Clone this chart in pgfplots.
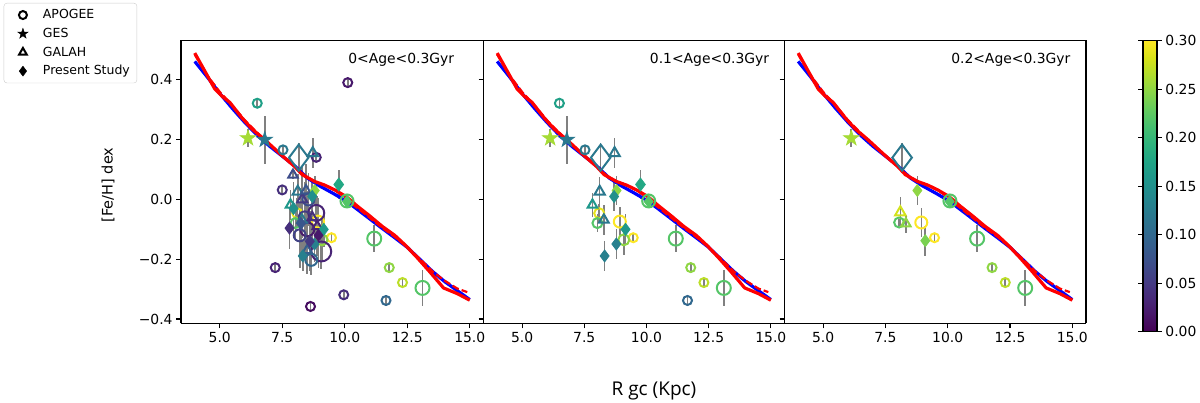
\documentclass[border=0pt]{standalone}
\usepackage{pgfplots}
\pgfplotsset{compat=1.18}
\usepackage{pgfplotstable}
\usepackage{fontspec}
\setmainfont{DejaVu Sans}
\newfontfamily\labfont{Open Sans}
\newcommand{\tickfont}{\fontsize{13.9}{16}\selectfont}

\pgfdeclareplotmark{fstar}{%
  \pgfpathmoveto{\pgfpointpolar{90}{\pgfplotmarksize}}%
  \pgfpathlineto{\pgfpointpolar{126}{0.382\pgfplotmarksize}}%
  \pgfpathlineto{\pgfpointpolar{162}{\pgfplotmarksize}}%
  \pgfpathlineto{\pgfpointpolar{198}{0.382\pgfplotmarksize}}%
  \pgfpathlineto{\pgfpointpolar{234}{\pgfplotmarksize}}%
  \pgfpathlineto{\pgfpointpolar{270}{0.382\pgfplotmarksize}}%
  \pgfpathlineto{\pgfpointpolar{306}{\pgfplotmarksize}}%
  \pgfpathlineto{\pgfpointpolar{342}{0.382\pgfplotmarksize}}%
  \pgfpathlineto{\pgfpointpolar{18}{\pgfplotmarksize}}%
  \pgfpathlineto{\pgfpointpolar{54}{0.382\pgfplotmarksize}}%
  \pgfpathclose
  \pgfusepathqfillstroke}

% ---------- gradient lines ----------
\pgfplotstableread{
x y
4.0 0.462
4.5 0.410
5.0 0.355
5.5 0.305
6.0 0.258
6.5 0.215
7.0 0.178
7.5 0.145
8.0 0.112
8.5 0.072
9.0 0.045
9.5 0.022
10.0 -0.002
10.5 -0.033
11.0 -0.065
11.5 -0.097
12.0 -0.128
12.5 -0.160
13.0 -0.200
13.5 -0.240
14.0 -0.275
14.5 -0.305
15.0 -0.335
}\bluel
\pgfplotstableread{
x y
4.0 0.490
4.4 0.430
4.8 0.370
5.1 0.345
5.4 0.325
5.9 0.272
6.3 0.235
6.8 0.200
7.5 0.146
8.0 0.110
8.3 0.083
8.8 0.060
9.2 0.048
9.6 0.032
10.05 0.010
10.5 -0.022
11.0 -0.055
11.5 -0.090
12.0 -0.120
12.45 -0.155
12.9 -0.195
13.4 -0.242
13.95 -0.296
14.5 -0.315
15.0 -0.337
}\redl
\pgfplotstableread{
x y
4.0 0.485
4.5 0.415
5.0 0.360
5.5 0.315
6.0 0.265
6.3 0.240
6.8 0.198
7.5 0.148
8.0 0.110
8.4 0.080
8.8 0.060
9.3 0.045
9.8 0.020
10.2 -0.008
10.8 -0.048
11.5 -0.095
12.0 -0.125
12.5 -0.160
13.0 -0.198
13.5 -0.240
14.0 -0.272
14.5 -0.298
14.9 -0.310
}\redd

% ---------- panel A: 0<Age<0.3 ----------
\pgfplotstableread{
x y c s e
6.50 0.322 0.17 4.5 0.012
10.12 0.391 0.02 4.5 0.012
7.53 0.166 0.12 4.5 0.012
8.86 0.141 0.03 4.5 0.012
7.50 0.032 0.04 4.5 0.012
9.47 -0.128 0.30 4.5 0.012
11.18 -0.131 0.22 7 0.045
7.22 -0.228 0.03 4.5 0.012
11.78 -0.228 0.25 4.5 0.012
12.31 -0.278 0.27 4.5 0.012
13.11 -0.296 0.22 7 0.06
9.96 -0.319 0.04 4.5 0.012
11.65 -0.338 0.10 4.5 0.012
8.63 -0.358 0.01 4.5 0.012
10.09 -0.005 0.22 6.5 0.012
8.10 -0.046 0.29 5 0.05
8.03 -0.079 0.22 5 0.06
8.93 -0.074 0.30 6 0.08
9.09 -0.135 0.25 5.5 0.07
9.06 -0.174 0.03 10 0.06
8.66 -0.202 0.10 6 0.05
8.86 -0.045 0.03 8 0.10
8.50 -0.100 0.02 7 0.13
8.20 -0.120 0.06 6 0.11
8.40 -0.060 0.05 6 0.12
8.55 0.000 0.07 6 0.09
}\circA
\pgfplotstableread{
x y c s e
6.13 0.205 0.26 8 0.03
6.80 0.200 0.12 8 0.08
}\starA
\pgfplotstableread{
x y c s e
8.72 0.155 0.12 6 0.05
7.93 0.082 0.07 5.5 0.012
8.12 0.026 0.12 6 0.06
7.83 -0.018 0.16 5.5 0.05
8.29 -0.068 0.12 5.5 0.06
8.30 0.000 0.05 6 0.11
8.45 0.030 0.08 5.5 0.09
8.70 -0.060 0.04 5.5 0.11
8.50 -0.170 0.09 5.5 0.08
8.90 -0.090 0.03 5.5 0.10
}\triA
\pgfplotstableread{
x y c s e
9.76 0.050 0.18 6.5 0.05
10.09 -0.007 0.22 6 0.02
8.80 0.030 0.25 6 0.05
8.70 0.010 0.15 6 0.06
9.16 -0.100 0.16 6 0.06
8.79 -0.149 0.13 6 0.06
8.32 -0.189 0.13 6 0.05
7.79 -0.096 0.04 6 0.07
7.95 -0.030 0.15 6 0.09
8.60 -0.140 0.05 6 0.10
8.95 -0.120 0.02 6 0.11
8.25 -0.080 0.08 6 0.12
}\diaA
\pgfplotstableread{
x y c s e
8.16 0.140 0.12 13 0.05
}\odiaA

% ---------- panel B: 0.1<Age<0.3 ----------
\pgfplotstableread{
x y c s e
6.50 0.322 0.17 4.5 0.012
7.53 0.166 0.12 4.5 0.012
9.47 -0.128 0.30 4.5 0.012
11.18 -0.131 0.22 7 0.045
11.78 -0.228 0.25 4.5 0.012
12.31 -0.278 0.27 4.5 0.012
13.11 -0.296 0.22 7 0.06
11.65 -0.338 0.10 4.5 0.012
10.09 -0.005 0.22 6.5 0.012
8.10 -0.046 0.29 5 0.03
8.03 -0.079 0.22 5 0.03
8.93 -0.074 0.30 6 0.05
9.09 -0.135 0.25 5.5 0.05
}\circB
\pgfplotstableread{
x y c s e
6.13 0.205 0.26 8 0.03
6.80 0.200 0.12 8 0.08
}\starB
\pgfplotstableread{
x y c s e
8.72 0.155 0.12 6 0.05
8.12 0.026 0.12 6 0.05
7.83 -0.018 0.16 5.5 0.04
8.29 -0.068 0.12 5.5 0.05
}\triB
\pgfplotstableread{
x y c s e
9.76 0.050 0.18 6.5 0.05
10.09 -0.007 0.22 6 0.02
8.80 0.030 0.25 6 0.05
8.70 0.010 0.15 6 0.05
9.16 -0.100 0.16 6 0.05
8.79 -0.149 0.13 6 0.05
8.32 -0.189 0.13 6 0.05
}\diaB
\pgfplotstableread{
x y c s e
8.16 0.140 0.12 13 0.05
}\odiaB

% ---------- panel C: 0.2<Age<0.3 ----------
\pgfplotstableread{
x y c s e
9.47 -0.128 0.30 4.5 0.012
11.18 -0.131 0.22 7 0.045
11.78 -0.228 0.25 4.5 0.012
12.31 -0.278 0.27 4.5 0.012
13.11 -0.296 0.22 7 0.06
10.09 -0.005 0.22 6.5 0.012
8.05 -0.077 0.22 5 0.012
8.94 -0.077 0.30 6 0.05
}\circC
\pgfplotstableread{
x y c s e
6.13 0.205 0.26 8 0.03
}\starC
\pgfplotstableread{
x y c s e
8.10 -0.043 0.28 6 0.05
8.32 -0.081 0.25 5.5 0.03
}\triC
\pgfplotstableread{
x y c s e
8.78 0.030 0.25 6 0.05
10.08 -0.007 0.22 6 0.02
9.10 -0.138 0.24 6 0.05
}\diaC
\pgfplotstableread{
x y c s e
8.17 0.140 0.12 13 0.05
}\odiaC

\pgfplotsset{
  panel/.style={
    scale only axis, height=283pt, anchor=south west,
    xmin=3.45, xmax=15.55, ymin=-0.415, ymax=0.532,
    xtick={5,7.5,10,12.5,15}, xticklabels={5.0,7.5,10.0,12.5,15.0},
    ytick={-0.4,-0.2,0,0.2,0.4},
    tick align=outside, tick pos=left,
    major tick length=4.9pt,
    every tick/.style={black, line width=1.1pt},
    separate axis lines,
    axis line style={black, line width=1.1pt},
    ticklabel style={font=\tickfont},
    colormap name=viridis, point meta min=0, point meta max=0.3,
  },
  pts/.style={only marks, scatter, point meta=explicit, forget plot,
    scatter/use mapped color={draw=mapped color, fill=mapped color},
    visualization depends on={\thisrow{s} \as \msize},
    scatter/@pre marker code/.append style={/tikz/mark size=\msize pt}},
  legimg/.style={legend image code/.code={%
    \path[draw=none, fill=none] (0pt,-4pt) rectangle (32pt,4pt);
    \draw[##1] plot coordinates {(14pt,0pt)};}},
}
\newcommand{\scat}[2]{\addplot[pts,#1] table[x=x,y=y,meta=c]{#2};}
\newcommand{\errs}[1]{\addplot[draw=none, mark=none, forget plot,
    error bars/.cd, y dir=both, y explicit, error mark=none,
    error bar style={draw=gray, line width=1.6pt}] table[x=x,y=y,y error=e]{#1};}
\newcommand{\grad}{%
  \addplot[blue, line width=3.2pt, line join=round, forget plot] table{\bluel};
  \addplot[red, dashed, dash pattern=on 7pt off 3pt, line width=2.2pt, forget plot] table{\redd};
  \addplot[red, line width=3.2pt, line join=round, forget plot] table{\redl};}
\newcommand{\panelpts}[5]{%
  \scat{mark=o, mark options={line width=2pt}}{#1}
  \scat{mark=fstar, mark options={line width=0.8pt}}{#2}
  \scat{mark=triangle, mark options={line width=2pt}}{#3}
  \scat{mark=diamond*, mark options={line width=0.8pt}}{#4}
  \scat{mark=diamond, mark options={line width=2pt}}{#5}
  \errs{#1}\errs{#2}\errs{#3}\errs{#4}\errs{#5}
  \grad}

\begin{document}
\begin{tikzpicture}
\useasboundingbox (0,0) rectangle (1200pt,403pt);

\begin{axis}[panel, at={(181pt,79.5pt)}, width=302.5pt,
  yticklabels={−0.4,−0.2,0.0,0.2,0.4},
  legend style={at={(-0.586,1.1325)}, anchor=north west, draw=black!20,
    rounded corners=3pt, fill=white, font=\fontsize{12.5}{15}\selectfont,
    row sep=1pt, inner xsep=5pt, inner ysep=3pt,
    nodes={inner sep=2pt, text height=10.5pt, text depth=3.2pt}},
  legend cell align=left,
]
\addlegendimage{only marks, legimg, mark=o, black, mark size=4pt, mark options={line width=2pt}}
\addlegendentry{APOGEE}
\addlegendimage{only marks, legimg, mark=fstar, black, mark size=5.5pt}
\addlegendentry{GES}
\addlegendimage{only marks, legimg, mark=triangle, black, mark size=4.5pt, mark options={line width=2pt}}
\addlegendentry{GALAH}
\addlegendimage{only marks, legimg, mark=diamond*, black, mark size=5pt}
\addlegendentry{Present Study}
\panelpts{\circA}{\starA}{\triA}{\diaA}{\odiaA}
\node[anchor=west, font=\tickfont] at (axis cs:10.0,0.467) {0<Age<0.3Gyr};
\end{axis}

\begin{axis}[panel, at={(483.5pt,79.5pt)}, width=301pt, yticklabels={}]
\panelpts{\circB}{\starB}{\triB}{\diaB}{\odiaB}
\node[anchor=west, font=\tickfont] at (axis cs:10.0,0.467) {0.1<Age<0.3Gyr};
\end{axis}

\begin{axis}[panel, at={(784.5pt,79.5pt)}, width=301.5pt, yticklabels={},
  colorbar,
  colorbar style={at={(parent axis.south east)}, xshift=48.5pt, yshift=-8.2pt,
    anchor=south west, scale only axis, width=14pt, height=291pt,
    ytick={0,0.05,0.1,0.15,0.2,0.25,0.3},
    yticklabels={0.00,0.05,0.10,0.15,0.20,0.25,0.30},
    yticklabel pos=right, tick align=outside, major tick length=4.9pt,
    every tick/.style={black, line width=1.1pt},
    axis line style={black, line width=1.1pt},
    ticklabel style={font=\tickfont}},
]
\panelpts{\circC}{\starC}{\triC}{\diaC}{\odiaC}
\node[anchor=west, font=\tickfont] at (axis cs:10.0,0.467) {0.2<Age<0.3Gyr};
\end{axis}

\node[rotate=90, font=\fontsize{14.5}{17}\selectfont] at (108pt,218pt) {[Fe/H] dex};
\node[font=\labfont\fontsize{19}{22}\selectfont] at (654pt,12pt) {R gc (Kpc)};
\end{tikzpicture}
\end{document}
